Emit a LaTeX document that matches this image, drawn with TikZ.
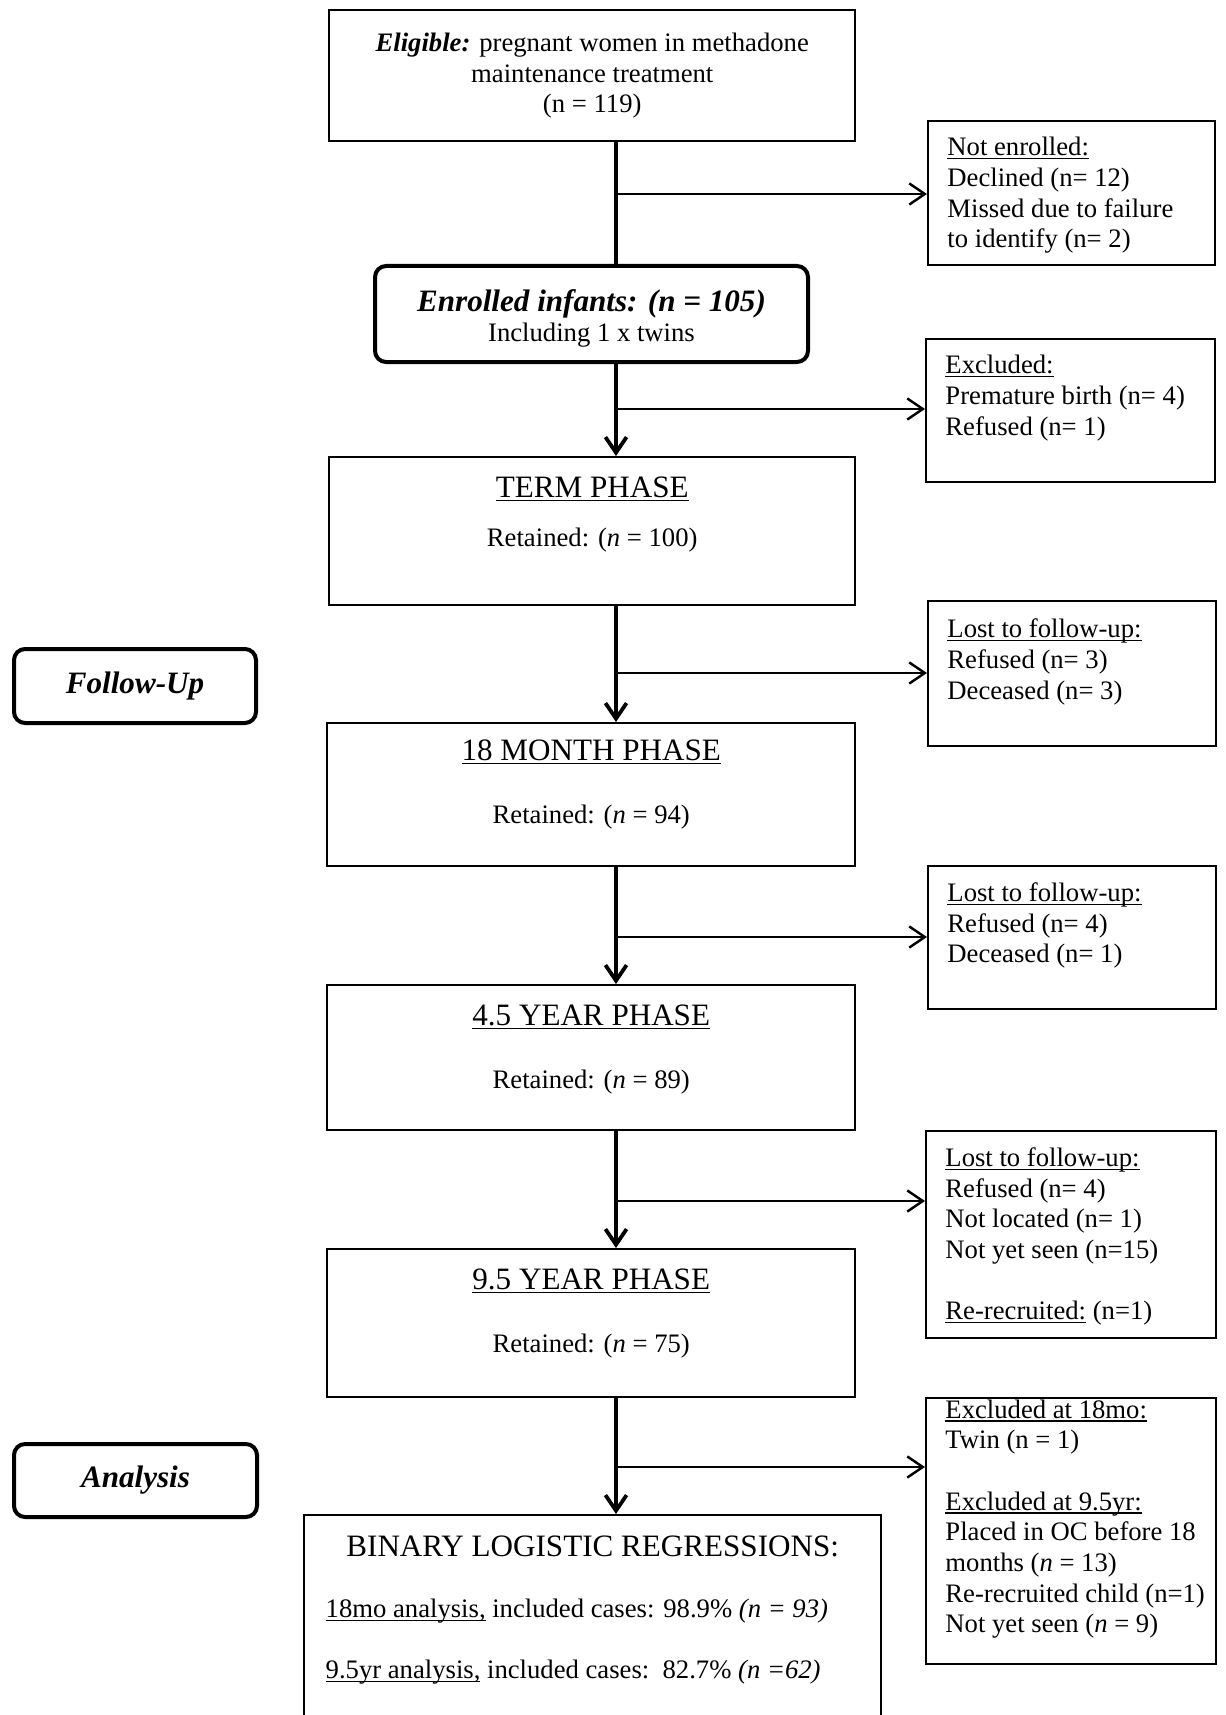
\documentclass[tikz,border=0pt]{standalone}
\usepackage{fontspec}
\setmainfont{Liberation Serif}
\usetikzlibrary{arrows.meta,positioning}
\newcommand{\pxu}{0.45pt}
\newcommand{\grande}{\fontsize{14}{16}\selectfont}
\newcommand{\normal}{\fontsize{12}{13.8}\selectfont}
\newsavebox{\cajasub}
\newcommand{\subr}[1]{\leavevmode\sbox{\cajasub}{#1}\rlap{\rule[-1.6pt]{\wd\cajasub}{0.6pt}}\usebox{\cajasub}}

\begin{document}
\begin{tikzpicture}[x=0.45pt,y=-0.45pt,
    caja/.style={draw,line width=1.1pt,inner sep=0pt,anchor=north west,align=center,font=\normal},
    redonda/.style={caja,rounded corners=5pt,line width=1.8pt},
    lista/.style={inner sep=0pt,anchor=north west,align=left,font=\normal},
    titulo/.style={inner sep=0pt,font=\grande},
    dato/.style={inner sep=0pt,font=\normal},
    tronco/.style={line width=1.7pt},
    rama/.style={line width=1.1pt},
    flecha/.style={-{Straight Barb[length=7pt,width=9.5pt]}}]
    \useasboundingbox (0,0) rectangle (1225,1715);

    % cajas centrales
    \node[caja,minimum width=526*\pxu,minimum height=131*\pxu] (elig) at (328,9)
        {\textbf{\textit{Eligible:}} pregnant women in methadone\\ maintenance treatment\\ (n = 119)};
    \node[redonda,minimum width=433*\pxu,minimum height=96*\pxu] (enr) at (373,264) {};
    \node[dato,align=center] (enrt) at ([yshift=-2pt]enr.center)
        {{\grande\textbf{\textit{Enrolled infants: (n = 105)}}}\\ Including 1 x twins};
    \node[caja,minimum width=526*\pxu,minimum height=148*\pxu] (term) at (328,456) {};
    \node[caja,minimum width=528*\pxu,minimum height=143*\pxu] (m18) at (326,722) {};
    \node[caja,minimum width=528*\pxu,minimum height=145*\pxu] (y45) at (326,984) {};
    \node[caja,minimum width=528*\pxu,minimum height=148*\pxu] (y95) at (326,1248) {};
    \node[caja,minimum width=577*\pxu,minimum height=215*\pxu] (binr) at (303,1514) {};

    % textos de las fases
    \node[titulo] (termt) at ([yshift=-15pt]term.north) {\subr{TERM PHASE}};
    \node[dato] (termn) at ([yshift=-37.8pt]term.north) {Retained: (\textit{n} = 100)};
    \node[titulo] (m18t) at ([yshift=-13.6pt]m18.north) {\subr{18 MONTH PHASE}};
    \node[dato] (m18n) at ([yshift=-43pt]m18.north) {Retained: (\textit{n} = 94)};
    \node[titulo] (y45t) at ([yshift=-15pt]y45.north) {\subr{4.5 YEAR PHASE}};
    \node[dato] (y45n) at ([yshift=-44pt]y45.north) {Retained: (\textit{n} = 89)};
    \node[titulo] (y95t) at ([yshift=-15pt]y95.north) {\subr{9.5 YEAR PHASE}};
    \node[dato] (y95n) at ([yshift=-44pt]y95.north) {Retained: (\textit{n} = 75)};
    \node[titulo] (binrt) at ([yshift=-14.4pt]binr.north) {BINARY LOGISTIC REGRESSIONS:};
    \node[dato,anchor=west] (binra) at ([xshift=10pt,yshift=-43.6pt]binr.north west)
        {\subr{18mo analysis,} included cases: 98.9\% \textit{(n = 93)}};
    \node[dato,anchor=west] (binrb) at ([xshift=10pt,yshift=-71.2pt]binr.north west)
        {\subr{9.5yr analysis,} included cases:\ \ 82.7\% \textit{(n =62)}};

    % etiquetas laterales
    \node[redonda,minimum width=242*\pxu,minimum height=74*\pxu,font=\grande\bfseries\itshape] (segui) at (12,647) {Follow-Up};
    \node[redonda,minimum width=243*\pxu,minimum height=73*\pxu,font=\grande\bfseries\itshape] (anal) at (12,1442) {Analysis};

    % cajas de la derecha
    \node[caja,minimum width=287*\pxu,minimum height=144*\pxu] (nenr) at (927,120) {};
    \node[caja,minimum width=289*\pxu,minimum height=143*\pxu] (excl1) at (925,338) {};
    \node[caja,minimum width=288*\pxu,minimum height=145*\pxu] (lost1) at (927,600) {};
    \node[caja,minimum width=288*\pxu,minimum height=143*\pxu] (lost2) at (927,865) {};
    \node[caja,minimum width=290*\pxu,minimum height=207*\pxu] (lost3) at (925,1130) {};
    \node[caja,minimum width=290*\pxu,minimum height=266*\pxu] (excl2) at (925,1397) {};

    \node[lista] (nenrt) at ([xshift=9pt,yshift=-7.6pt]nenr.north west)
        {\subr{Not enrolled:}\\ Declined (n= 12)\\ Missed due to failure\\ to identify (n= 2)};
    \node[lista] (excl1t) at ([xshift=9pt,yshift=-7.6pt]excl1.north west)
        {\subr{Excluded:}\\ Premature birth (n= 4)\\ Refused (n= 1)};
    \node[lista] (lost1t) at ([xshift=9pt,yshift=-8.3pt]lost1.north west)
        {\subr{Lost to follow-up:}\\ Refused (n= 3)\\ Deceased (n= 3)};
    \node[lista] (lost2t) at ([xshift=9pt,yshift=-7.8pt]lost2.north west)
        {\subr{Lost to follow-up:}\\ Refused (n= 4)\\ Deceased (n= 1)};
    \node[lista] (lost3t) at ([xshift=9pt,yshift=-7.8pt]lost3.north west)
        {\subr{Lost to follow-up:}\\ Refused (n= 4)\\ Not located (n= 1)\\ Not yet seen (n=15)\\[13.8pt] \subr{Re-recruited:} (n=1)};
    \node[lista] (excl2t) at ([xshift=9pt,yshift=-1pt]excl2.north west)
        {\subr{Excluded at 18mo:}\\ Twin (n = 1)\\[13.8pt] \subr{Excluded at 9.5yr:}\\ Placed in OC before 18\\ months (\textit{n} = 13)\\ Re-recruited child (n=1)\\ Not yet seen (\textit{n} = 9)};

    % eje vertical y ramas
    \coordinate (eje) at (616,0);
    \foreach \nom/\alt in {b1/194,b2/409,b3/673,b4/937,b5/1201,b6/1467}
        \coordinate (\nom) at (616,\alt);
    \draw[tronco] (elig.south -| eje) -- (enr.north -| eje);
    \foreach \desde/\hasta in {enr/term,term/m18,m18/y45,y45/y95,y95/binr}
        \draw[tronco,flecha] (\desde.south -| eje) -- (\hasta.north -| eje);
    \foreach \desde/\hasta in {b1/nenr,b2/excl1,b3/lost1,b4/lost2,b5/lost3,b6/excl2}
        \draw[rama,flecha] (\desde) -- (\hasta.west |- \desde);
\end{tikzpicture}
\end{document}
